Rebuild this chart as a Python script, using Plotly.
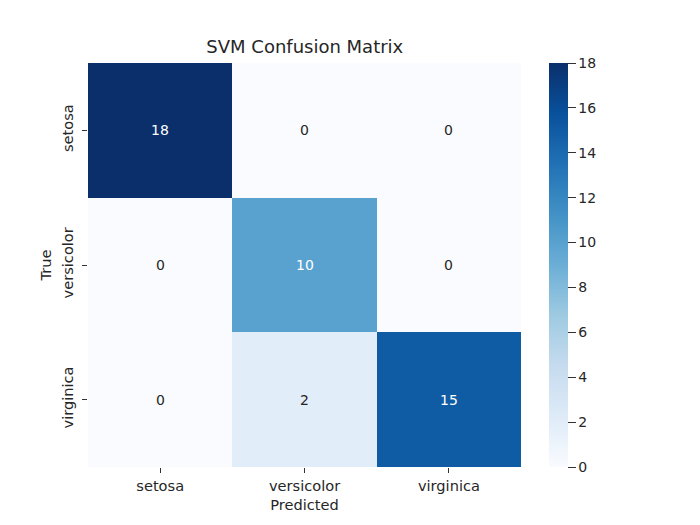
import plotly.graph_objects as go

#Data
labels = ['setosa', 'versicolor', 'virginica']
row_setosa = [18, 0, 0]
row_versicolor = [0, 10, 0]
row_virginica = [0, 2, 15]
matrix = [row_setosa, row_versicolor, row_virginica]
cbar_ticks = [0, 2, 4, 6, 8, 10, 12, 14, 16, 18]

#matplotlib Blues
blues = [
    [0.0, '#f9fbff'], [0.125, '#deebf7'], [0.25, '#c6dbef'],
    [0.375, '#9ecae1'], [0.5, '#6baed6'], [0.625, '#4292c6'],
    [0.75, '#2171b5'], [0.875, '#08519c'], [1.0, '#0a2f6b'],
]

FONT = 'DejaVu Sans'
INK = '#262626'
SIZE = 14.6
NUM_SIZE = 14
text_colors = [['white' if v > 9 else INK for v in row] for row in matrix]

fig = go.Figure()
fig.add_trace(go.Heatmap(
    z=matrix, x=labels, y=labels,
    colorscale=blues, zmin=0, zmax=18,
    showscale=True,
    colorbar=dict(
        x=0.829, xanchor='left', xref='paper', xpad=0, thickness=19,
        len=1, y=0.5, yanchor='middle', ypad=0,
        tickmode='array', tickvals=cbar_ticks,
        ticks='outside', ticklen=8, tickcolor='#333',
        tickfont=dict(size=NUM_SIZE, color=INK),
        outlinewidth=0,
    ),
))

#Cell annotations
for i, row in enumerate(matrix):
    for j, v in enumerate(row):
        fig.add_annotation(x=labels[j], y=labels[i], text=str(v), showarrow=False,
                           font=dict(size=NUM_SIZE, color=text_colors[i][j]))

fig.update_xaxes(domain=[0, 0.779], ticks='outside', ticklen=5, tickcolor='#333',
                 tickfont=dict(size=SIZE, color=INK), showgrid=False,
                 title=dict(text='Predicted', font=dict(size=SIZE, color=INK), standoff=7))
fig.update_yaxes(autorange='reversed', ticks='outside', ticklen=5, tickcolor='#333',
                 ticklabelstandoff=3,
                 tickangle=-90, tickfont=dict(size=SIZE, color=INK), showgrid=False,
                 title=dict(text='True', font=dict(size=SIZE, color=INK), standoff=4))

fig.update_layout(
    width=700, height=525,
    margin=dict(l=80, r=64, t=55, b=66),
    title=dict(text='SVM Confusion Matrix', x=0.424, xanchor='center', y=0.926, yanchor='middle',
               font=dict(size=18, color=INK)),
    font=dict(family=FONT),
    paper_bgcolor='white', plot_bgcolor='white',
)

fig.write_html('out.html')
